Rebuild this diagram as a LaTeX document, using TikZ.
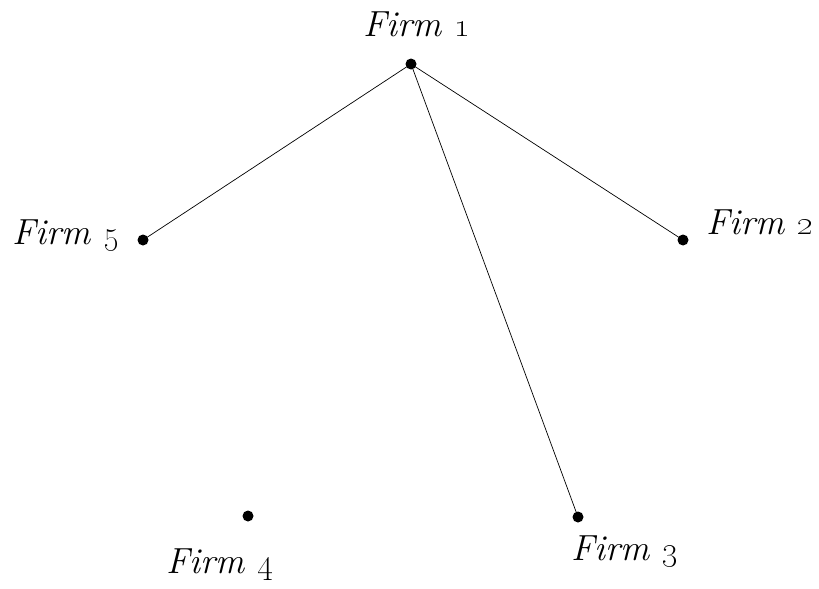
\documentclass[tikz,border=0pt]{standalone}
\begin{document}
\begin{tikzpicture}[x=0.03cm,y=-0.03cm,
  firmdot/.style={circle,fill=black,inner sep=0pt,minimum size=0.33cm},
  lab/.style={font=\fontsize{31}{35}\selectfont\itshape,inner sep=0pt},
  link/.style={line width=0.6pt}]
\useasboundingbox (0,0) rectangle (819,588);
\node[firmdot] (f1) at (411,64) {};
\node[firmdot] (f5) at (143,240) {};
\node[firmdot] (f2) at (683,240) {};
\node[firmdot] (f4) at (248,516) {};
\node[firmdot] (f3) at (578,517) {};
\node[lab] (l1) at (417,24) {Firm \oldstylenums{1}};
\node[lab] (l5) at (66,236) {Firm \oldstylenums{5}};
\node[lab] (l2) at (760,222) {Firm \oldstylenums{2}};
\node[lab] (l4) at (220,565) {Firm \oldstylenums{4}};
\node[lab] (l3) at (625,552) {Firm \oldstylenums{3}};
\draw[link] (f1.center) -- (f5.center);
\draw[link] (f1.center) -- (f2.center);
\draw[link] (f1.center) -- (f3.center);
\end{tikzpicture}
\end{document}
